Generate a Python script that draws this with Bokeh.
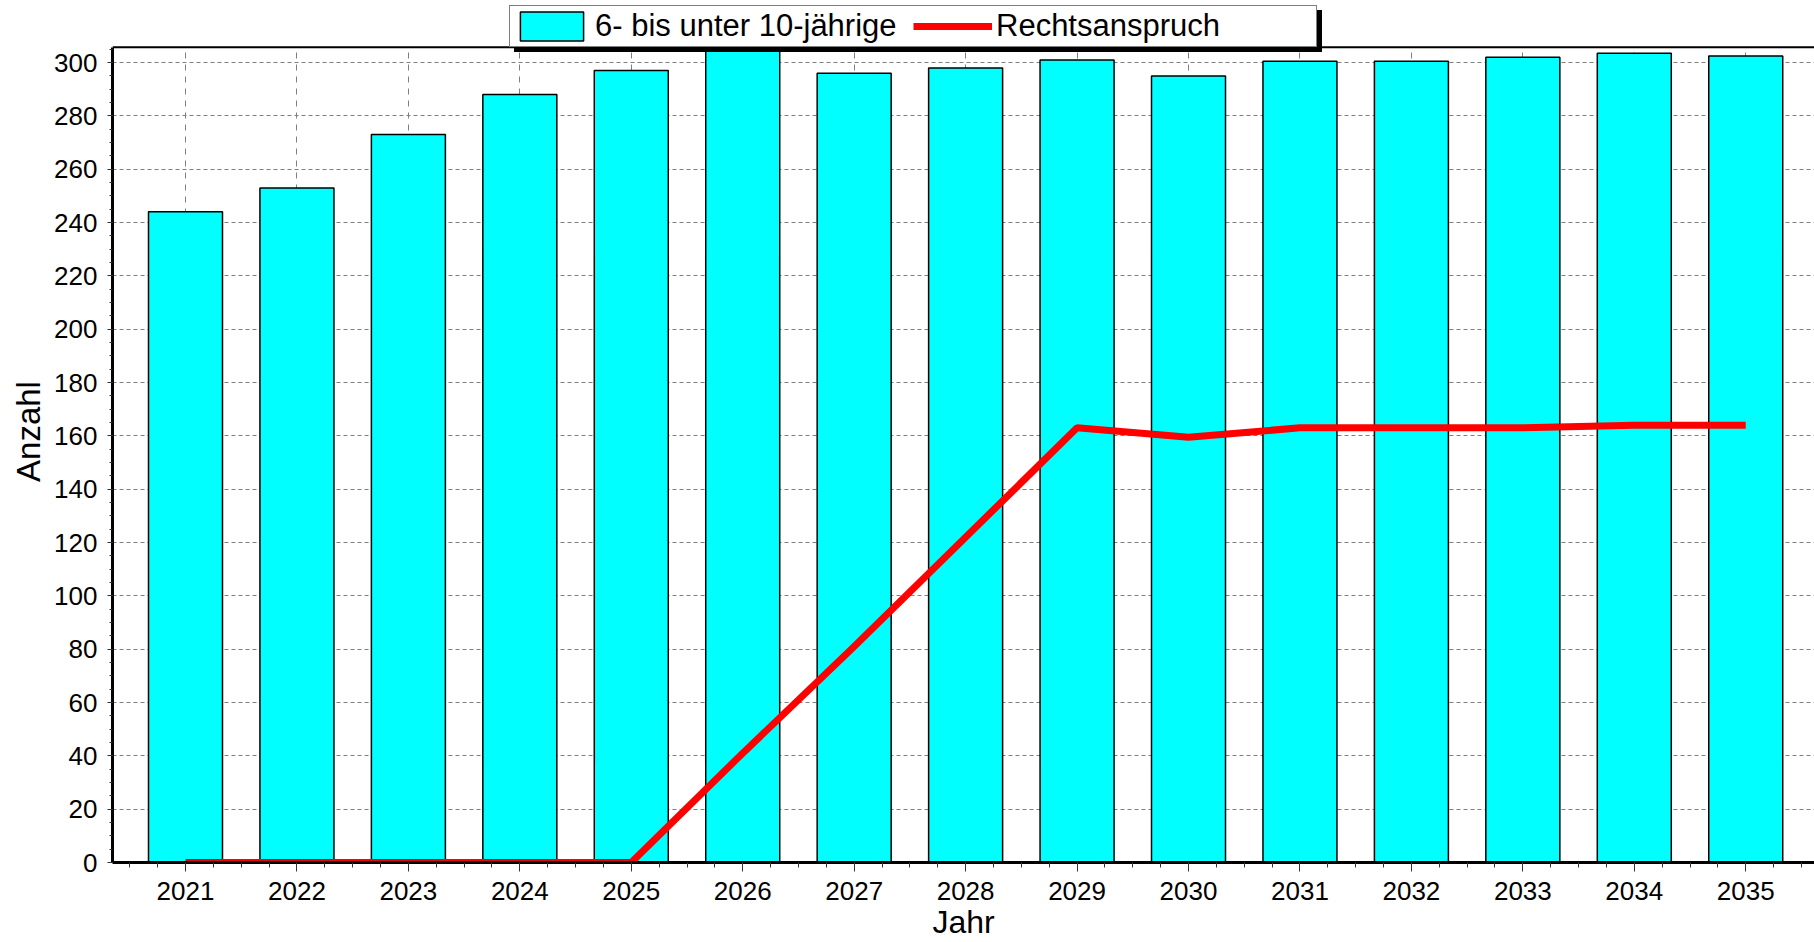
import numpy as np
from bokeh.plotting import figure
from bokeh.models import (ColumnDataSource, Range1d, FixedTicker, SingleIntervalTicker,
                          Legend, LegendItem, BoxAnnotation, Span)
from bokeh.embed import file_html
from bokeh.resources import INLINE

# ---- data ----
years = [2021, 2022, 2023, 2024, 2025, 2026, 2027, 2028, 2029, 2030, 2031, 2032, 2033, 2034, 2035]
kinder_6_10 = [244, 253, 273, 288, 297, 310, 296, 298, 301, 295, 300.5, 300.5, 302, 303.5, 302.5]
rechtsanspruch = [0, 0, 0, 0, 0, 41, 81, 122, 163, 159.5, 163, 163, 163, 164, 164]
series_labels = ["6- bis unter 10-jährige", "Rechtsanspruch"]
x_label = "Jahr"
y_label = "Anzahl"

FONT = "Liberation Sans"
Y_TOP = 305.7          # top of the plotting area
Y_EXT = 323.27         # frame extends above, hidden by a white box (room for the legend)

src = ColumnDataSource(dict(year=years, kinder=kinder_6_10, recht=rechtsanspruch))

p = figure(width=1814, height=942,
           x_range=Range1d(2020.345, 2035.617), y_range=Range1d(0, Y_EXT),
           output_backend="svg", toolbar_location=None,
           min_border_left=112, min_border_right=0, min_border_top=0, min_border_bottom=77,
           background_fill_color="white", border_fill_color="white",
           outline_line_color=None)

# grids
p.xgrid.grid_line_color = "#7f7f7f"
p.xgrid.grid_line_dash = "6 6"
p.xgrid.grid_line_width = 1
p.ygrid.grid_line_color = "#7f7f7f"
p.ygrid.grid_line_dash = "4 3"
p.ygrid.grid_line_width = 1

# x axis
xa = p.xaxis[0]
xa.ticker = FixedTicker(ticks=years, minor_ticks=list(np.arange(2020.25, 2036.0, 0.25)))
xa.axis_line_width = 3
xa.axis_line_color = "black"
xa.major_tick_out = 9
xa.major_tick_in = 0
xa.minor_tick_out = 5
xa.minor_tick_in = 0
xa.major_tick_line_color = "#333333"
xa.minor_tick_line_color = "#333333"
xa.major_label_text_font = FONT
xa.major_label_text_font_size = "26px"
xa.major_label_text_color = "black"
xa.major_label_standoff = 10
xa.axis_label = x_label
xa.axis_label_text_font = FONT
xa.axis_label_text_font_size = "32px"
xa.axis_label_text_font_style = "normal"
xa.axis_label_text_color = "black"
xa.axis_label_standoff = 1

# y axis
ya = p.yaxis[0]
ya.ticker = SingleIntervalTicker(interval=20, num_minor_ticks=4)
ya.bounds = (0, Y_TOP)
ya.axis_line_width = 3
ya.axis_line_color = "black"
ya.major_tick_out = 5
ya.major_tick_in = 0
ya.minor_tick_out = 3
ya.minor_tick_in = 0
ya.major_tick_line_color = "#333333"
ya.minor_tick_line_color = "#333333"
ya.major_label_text_font = FONT
ya.major_label_text_font_size = "26px"
ya.major_label_text_color = "black"
ya.major_label_standoff = 10
ya.axis_label = y_label
ya.axis_label_text_font = FONT
ya.axis_label_text_font_size = "33px"
ya.axis_label_text_font_style = "normal"
ya.axis_label_text_color = "black"
ya.axis_label_standoff = 4

# glyphs
bars = p.vbar(x="year", top="kinder", width=0.664, source=src,
              fill_color="#00FFFF", line_color="black", line_width=1.5)
line = p.line(x="year", y="recht", source=src, line_color="#FF0000", line_width=7)

# white cover above the plotting area + top border line
p.add_layout(BoxAnnotation(bottom=Y_TOP, fill_color="white", fill_alpha=1.0, line_color=None))
p.add_layout(Span(location=Y_TOP, dimension="width", line_color="black", line_width=2))

# shadow legend (dummy, empty renderers, blank labels)
sh_bar = p.vbar(x=[], top=[], width=0.5, fill_color="black", line_color="black")
sh_line = p.line(x=[], y=[], line_color="black", line_width=7)


def make_legend(r1, r2, labels, loc, bg, fg):
    return Legend(items=[LegendItem(label=labels[0], renderers=[r1]),
                         LegendItem(label=labels[1], renderers=[r2])],
                  location=loc, orientation="horizontal",
                  glyph_width=79, glyph_height=36, label_standoff=4,
                  label_width=318, spacing=0, padding=2, margin=0,
                  label_text_font=FONT, label_text_font_size="31px", label_text_color=fg,
                  background_fill_color=bg, background_fill_alpha=1.0,
                  border_line_color="black", border_line_width=1.5)

p.add_layout(make_legend(sh_bar, sh_line, [" ", " "], (402, 810), "black", "black"), "center")
p.add_layout(make_legend(bars, line, series_labels, (397, 815), "white", "black"), "center")

open("out.html", "w").write(file_html(p, INLINE))
